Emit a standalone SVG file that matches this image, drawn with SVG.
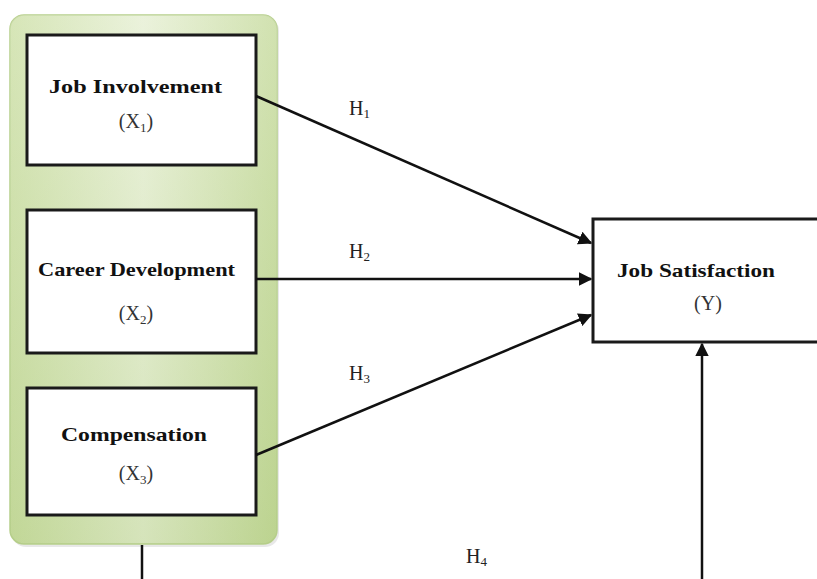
<svg xmlns="http://www.w3.org/2000/svg" width="817" height="579" viewBox="0 0 817 579">
<style>
.box{fill:#ffffff;stroke:#1a1a1a;stroke-width:3}
.title{font-family:"Liberation Serif",serif;font-weight:bold;font-size:19px;fill:#111}
.var{font-family:"Liberation Serif",serif;font-size:20px;fill:#333;text-anchor:middle}
.lab{font-family:"Liberation Serif",serif;font-size:20px;fill:#222}
.sub{font-size:13px}
.conn{stroke:#111;stroke-width:2.5;fill:none}
</style>
<defs>
<marker id="ah" viewBox="0 0 10 10" refX="9" refY="5" markerWidth="5.5" markerHeight="5.5" orient="auto" markerUnits="strokeWidth">
<path d="M0,0 L10,5 L0,10 z" fill="#111"/>
</marker>
<linearGradient id="gg" x1="0" y1="0" x2="1" y2="0">
<stop offset="0" stop-color="#c9dda0"/>
<stop offset="0.5" stop-color="#e4eed0"/>
<stop offset="1" stop-color="#c2d896"/>
</linearGradient>
<linearGradient id="gv" x1="0" y1="0" x2="0" y2="1">
<stop offset="0" stop-color="#ffffff" stop-opacity="0.25"/>
<stop offset="1" stop-color="#a9c47a" stop-opacity="0.25"/>
</linearGradient>
</defs>
<g id="group-x">
<rect x="12" y="17" width="267" height="530" rx="14" fill="#d8d8d8" opacity="0.6"/>
<rect x="10" y="15" width="267" height="529" rx="14" fill="url(#gg)" stroke="#b7cf8c" stroke-width="1.5"/>
<rect x="10" y="15" width="267" height="529" rx="14" fill="url(#gv)"/>
</g>
<g id="x1">
<rect class="box" x="27" y="35" width="229" height="130"/>
<text class="title" x="49" y="93" textLength="173" lengthAdjust="spacingAndGlyphs">Job Involvement</text>
<text class="var" x="136" y="128">(X<tspan class="sub" dy="4">1</tspan><tspan dy="-4">)</tspan></text>
</g>
<g id="x2">
<rect class="box" x="27" y="210" width="229" height="143"/>
<text class="title" x="38" y="276" textLength="197" lengthAdjust="spacingAndGlyphs">Career Development</text>
<text class="var" x="136" y="320">(X<tspan class="sub" dy="4">2</tspan><tspan dy="-4">)</tspan></text>
</g>
<g id="x3">
<rect class="box" x="27" y="388" width="229" height="127"/>
<text class="title" x="61" y="441" textLength="146" lengthAdjust="spacingAndGlyphs">Compensation</text>
<text class="var" x="136" y="480">(X<tspan class="sub" dy="4">3</tspan><tspan dy="-4">)</tspan></text>
</g>
<g id="y">
<rect class="box" x="593" y="219" width="230" height="123"/>
<text class="title" x="617" y="277" textLength="158" lengthAdjust="spacingAndGlyphs">Job Satisfaction</text>
<text class="var" x="708" y="310">(Y)</text>
</g>
<g id="connectors">
<line class="conn" x1="256" y1="96" x2="591" y2="243" marker-end="url(#ah)"/>
<line class="conn" x1="256" y1="279" x2="591" y2="279" marker-end="url(#ah)"/>
<line class="conn" x1="256" y1="455" x2="591" y2="315" marker-end="url(#ah)"/>
<line class="conn" x1="142" y1="545" x2="142" y2="579"/>
<line class="conn" x1="702" y1="579" x2="702" y2="344" marker-end="url(#ah)"/>
</g>
<g id="labels">
<text class="lab" x="349" y="115">H<tspan class="sub" dy="3">1</tspan></text>
<text class="lab" x="349" y="258">H<tspan class="sub" dy="3">2</tspan></text>
<text class="lab" x="349" y="380">H<tspan class="sub" dy="3">3</tspan></text>
<text class="lab" x="466" y="563">H<tspan class="sub" dy="3">4</tspan></text>
</g>
</svg>
